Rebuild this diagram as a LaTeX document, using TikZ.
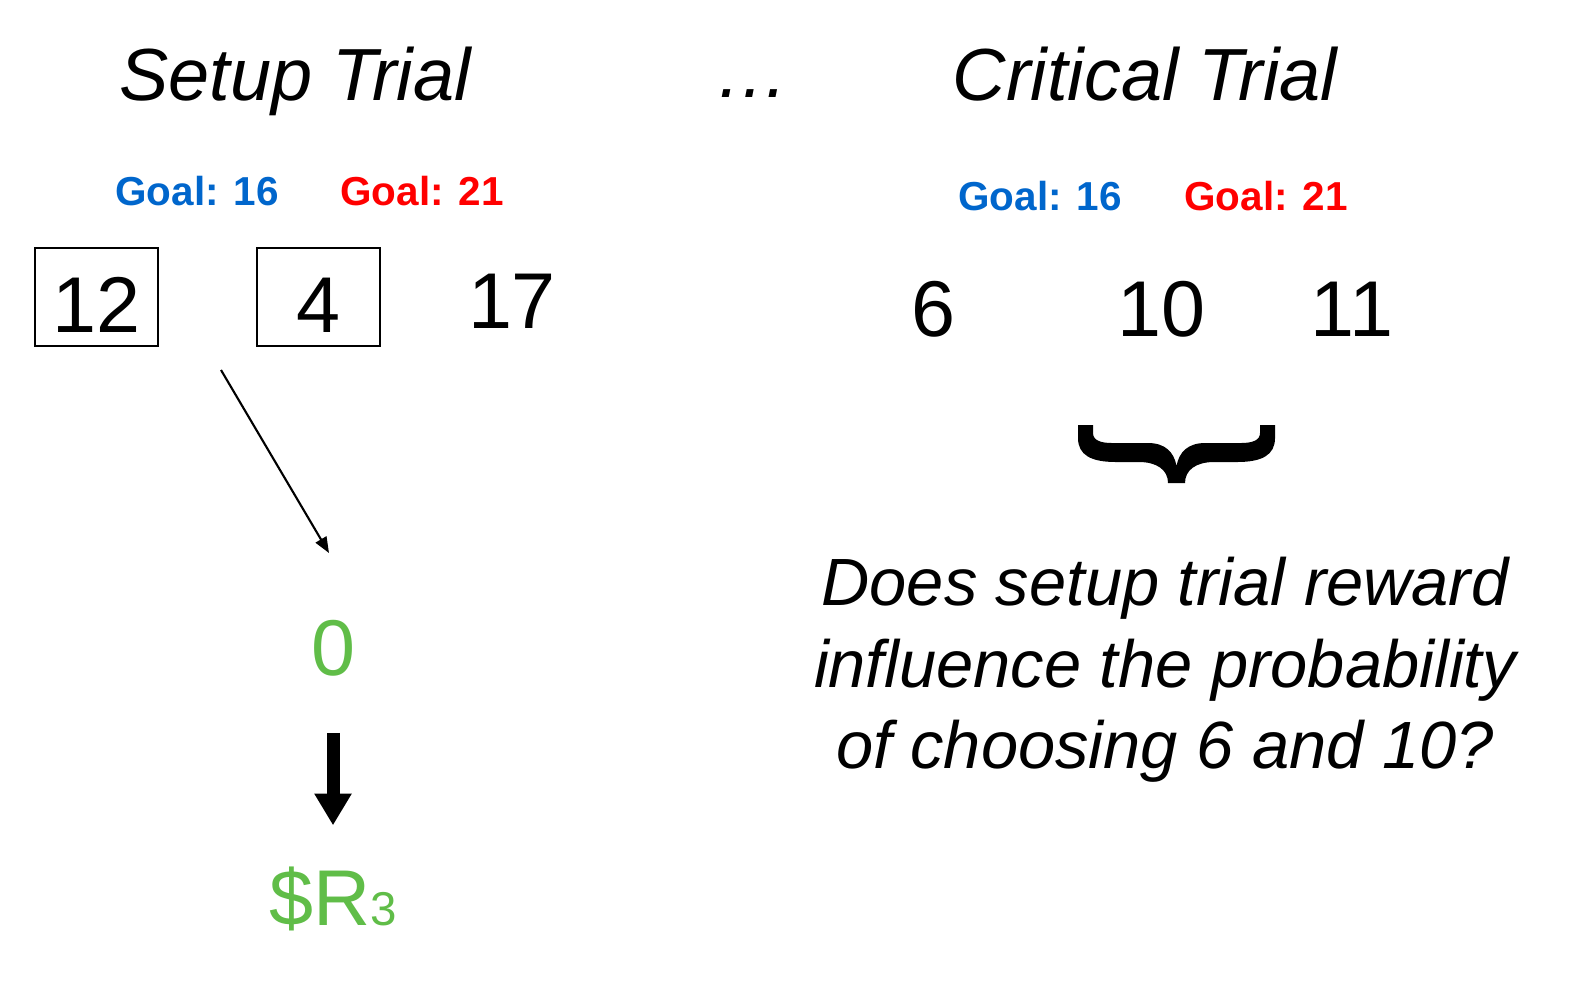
\documentclass[tikz,border=0pt]{standalone}
\usepackage{fontspec}
\setmainfont{Liberation Sans}
\usetikzlibrary{arrows.meta,positioning}
\definecolor{goalblue}{RGB}{0,102,204}
\definecolor{goalred}{RGB}{255,0,0}
\definecolor{rewgreen}{RGB}{96,189,72}

\begin{document}
\begin{tikzpicture}[x=0.01cm,y=-0.01cm,
  title/.style={font=\fontsize{21}{25}\selectfont\itshape,anchor=base,inner sep=0pt},
  goal/.style={font=\fontsize{11.5}{14}\selectfont\bfseries,anchor=base,inner sep=0pt},
  num/.style={font=\fontsize{22.5}{27}\selectfont,anchor=base,inner sep=0pt},
  numbox/.style={draw,line width=0.5pt,minimum width=35pt,minimum height=28pt,inner sep=0pt,
    text height=20pt,text depth=0pt,font=\fontsize{22.5}{27}\selectfont},
  question/.style={font=\fontsize{19}{23.2}\selectfont\itshape,align=center,inner sep=0pt},
  thinarrow/.style={line width=0.6pt,-{Triangle[width=3.5pt,length=4.5pt]}},
  bigarrow/.style={line width=3.7pt,-{Triangle[width=10pt,length=9pt]}}]
\useasboundingbox (0,0) rectangle (1580,996);

% Headings
\node[title] (setup) at (295,100) {Setup Trial};
\node[title] (dots) at (752,97) {…};
\node[title] (critical) at (1145,100) {Critical Trial};

% Setup trial
\node[goal,text=goalblue] (sgoalA) at (197,205) {Goal: 16};
\node[goal,text=goalred] (sgoalB) at (422,205) {Goal: 21};
\node[numbox] (n12) at (96.5,297) {12};
\node[numbox] (n4) at (318.5,297) {4};
\node[num] (n17) at (512,328) {17};

% Reward of the setup trial
\coordinate (sumpt) at (221,370);
\coordinate (sumtip) at (329,553);
\draw[thinarrow] (sumpt) -- (sumtip);
\node[num,text=rewgreen] (zero) at (333,675) {0};
\node[num,text=rewgreen] (reward) at (333,925) {\$R{\fontsize{13.5}{16}\selectfont 3}};
\draw[bigarrow,shorten <=16pt,shorten >=11.5pt] (zero.south) -- (reward.north);

% Critical trial
\node[goal,text=goalblue] (cgoalA) at (1040,210) {Goal: 16};
\node[goal,text=goalred] (cgoalB) at (1266,210) {Goal: 21};
\node[num] (n6) at (933,336) {6};
\node[num] (n10) at (1161,336) {10};
\node[num] (n11) at (1352,336) {11};
% brace under 10 and 11
\fill (1078,425) -- (1093,425) -- (1093,433) .. controls (1093,440) and (1100,443) .. (1112,443)
  -- (1148,443) .. controls (1165,443) and (1174,452) .. (1176.5,466)
  .. controls (1179,452) and (1188,443) .. (1205,443) -- (1241,443)
  .. controls (1253,443) and (1260,440) .. (1260,433) -- (1260,425) -- (1275,425) -- (1275,438)
  .. controls (1275,455) and (1262,462) .. (1237,462) -- (1214,462)
  .. controls (1196,462) and (1185,470) .. (1185,483) -- (1168,483)
  .. controls (1168,470) and (1157,462) .. (1139,462) -- (1116,462)
  .. controls (1091,462) and (1078,455) .. (1078,438) -- cycle;
\node[question] (ask) at (1165,670) {Does setup trial reward\\influence the probability\\of choosing 6 and 10?};
\end{tikzpicture}
\end{document}
